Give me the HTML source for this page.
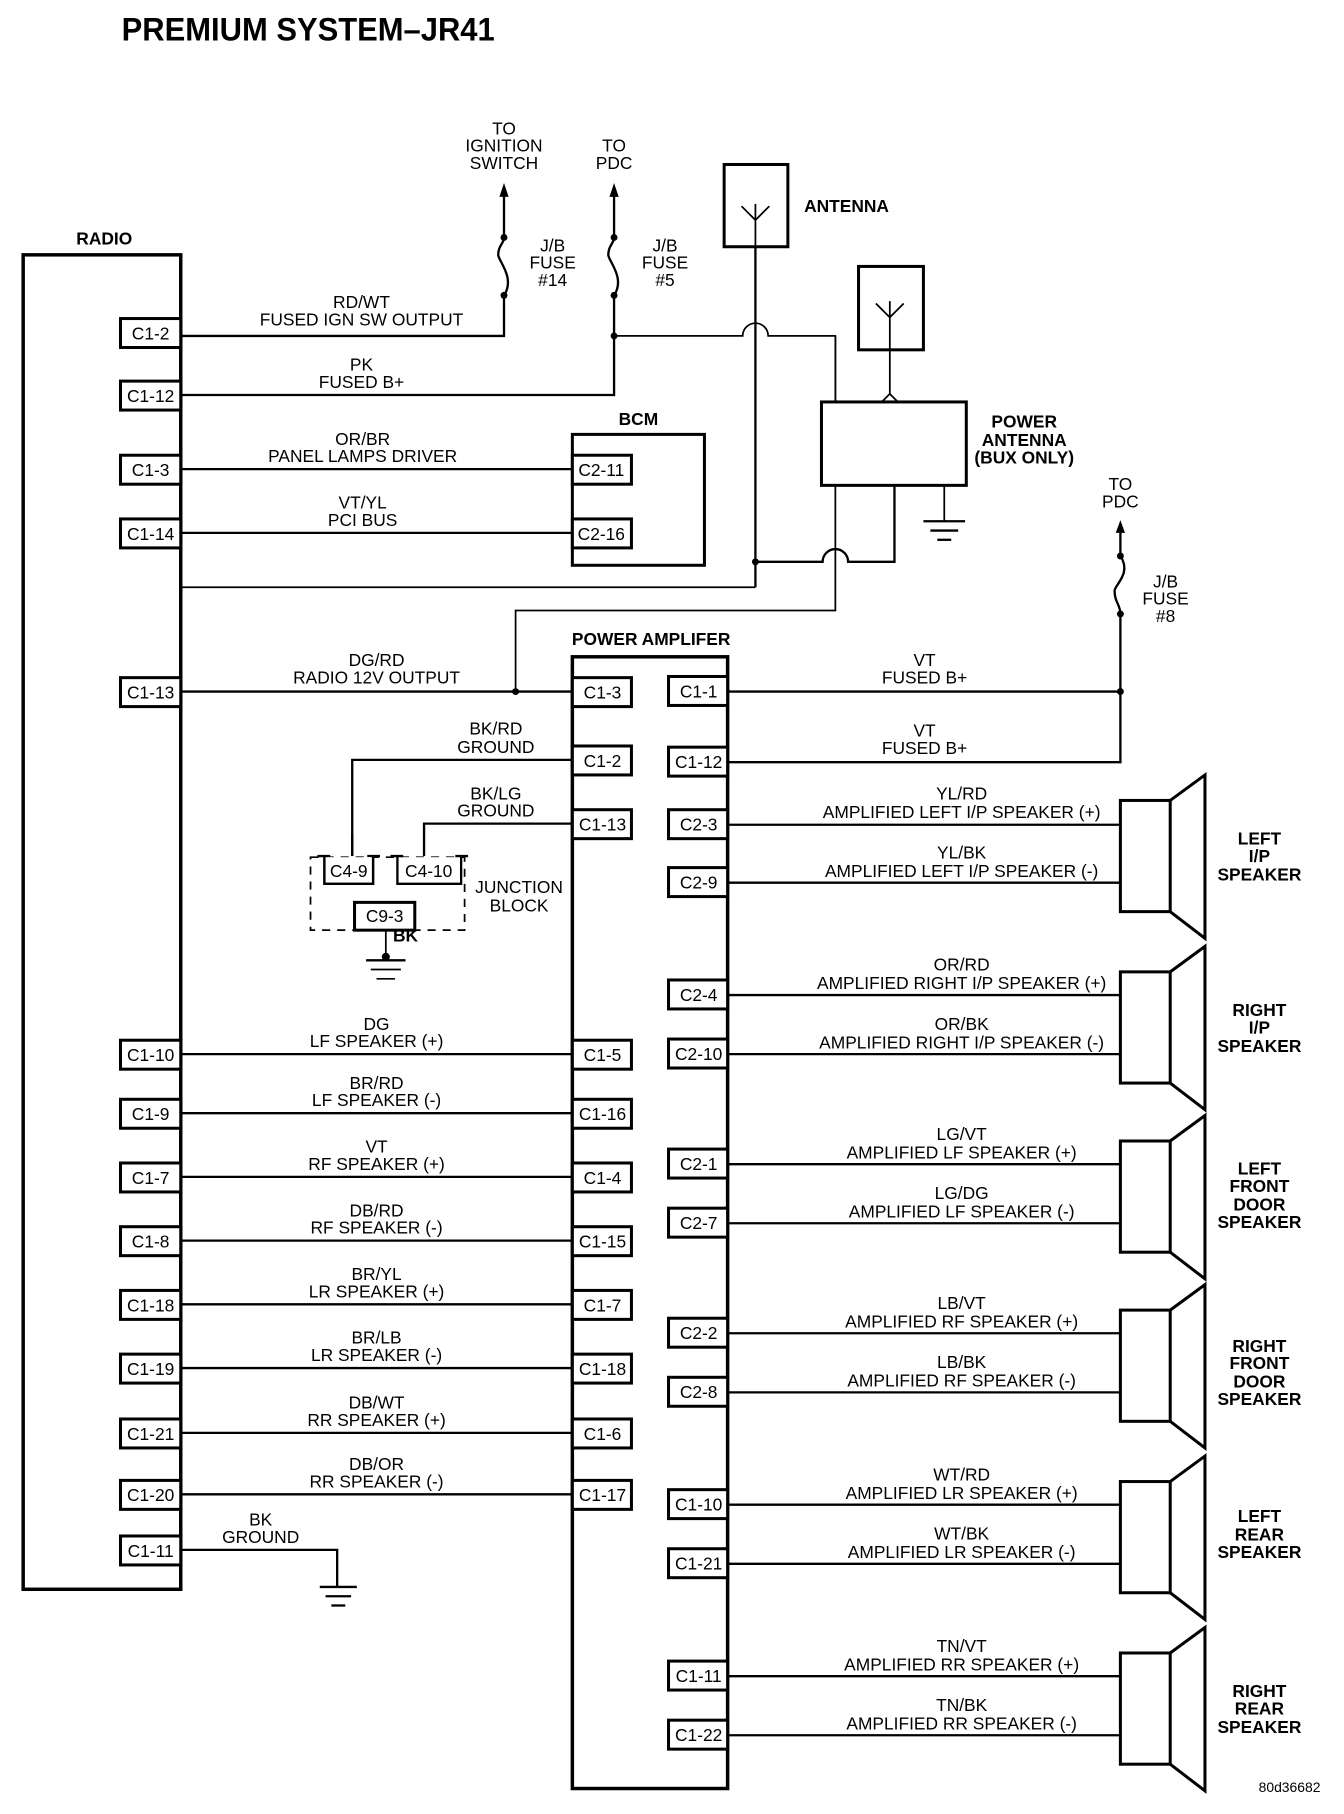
<!DOCTYPE html>
<html><head><meta charset="utf-8"><style>
html,body{margin:0;padding:0;background:#fff}
svg{display:block}
text{font-family:"Liberation Sans",sans-serif;font-size:15px;fill:#000}
.b{font-weight:bold}
.m{text-anchor:middle}
.w{fill:none;stroke:#000;stroke-width:2}
.t{fill:none;stroke:#000;stroke-width:1.5}
.bx{fill:#fff;stroke:#000;stroke-width:2.6}
.k{fill:none;stroke:#000;stroke-width:3}
</style></head><body>
<svg width="1344" height="1814" viewBox="0 0 1160 1566" preserveAspectRatio="none" xmlns="http://www.w3.org/2000/svg">
<text x="105" y="35" class="b" style="font-size:28px" textLength="322" lengthAdjust="spacingAndGlyphs">PREMIUM SYSTEM–JR41</text>

<!-- RADIO -->
<text x="90" y="211" class="b m">RADIO</text>
<rect x="20" y="220" width="136" height="1152" class="k"/>

<!-- wires top -->
<polyline points="156,290 435,290 435,255" class="w"/>
<path d="M435,255 C445,240 430,225 430,220 C430,212 435,210 435,205" class="w"/>
<line x1="435" y1="205" x2="435" y2="168" class="w"/>
<polygon points="435,158 431,170 439,170"/>
<circle cx="435" cy="255" r="3"/><circle cx="435" cy="205" r="3"/>
<text x="435" y="116" class="m">TO</text><text x="435" y="131" class="m">IGNITION</text><text x="435" y="146" class="m">SWITCH</text>
<text x="477" y="217" class="m">J/B</text><text x="477" y="232" class="m">FUSE</text><text x="477" y="247" class="m">#14</text>
<text x="312" y="266" class="m">RD/WT</text><text x="312" y="281" class="m">FUSED IGN SW OUTPUT</text>

<polyline points="156,341 530,341 530,255" class="w"/>
<path d="M530,255 C540,240 525,225 525,220 C525,212 530,210 530,205" class="w"/>
<line x1="530" y1="205" x2="530" y2="168" class="w"/>
<polygon points="530,158 526,170 534,170"/>
<circle cx="530" cy="255" r="3"/><circle cx="530" cy="205" r="3"/><circle cx="530" cy="290" r="3"/>
<text x="530" y="131" class="m">TO</text><text x="530" y="146" class="m">PDC</text>
<text x="574" y="217" class="m">J/B</text><text x="574" y="232" class="m">FUSE</text><text x="574" y="247" class="m">#5</text>
<text x="312" y="320" class="m">PK</text><text x="312" y="335" class="m">FUSED B+</text>

<path d="M530,290 L641,290 A11,11 0 0 1 663,290 L721,290 L721,527 L445,527 L445,597" class="t"/>
<circle cx="445" cy="597" r="3"/>

<!-- antenna -->
<rect x="625" y="142" width="55" height="71" class="bx"/>
<path d="M652,213 L652,176 M640,178 L652,190 L664,178" class="t"/>
<text x="694" y="183" class="b">ANTENNA</text>
<line x1="652" y1="213" x2="652" y2="507" class="w"/>
<polyline points="156,507 652,507" class="t"/>
<path d="M652,485 L710,485 A11,11 0 0 1 732,485 L772,485 L772,419" class="w"/>
<circle cx="652" cy="485" r="3"/>

<rect x="741" y="230" width="56" height="72" class="bx"/>
<path d="M768,302 L768,260 M756,262 L768,274 L780,262" class="t"/>
<path d="M768,302 L768,340 M761,347 L768,340 L775,347" class="t"/>
<rect x="709" y="347" width="125" height="72" class="bx"/>
<line x1="721" y1="290" x2="721" y2="347" class="t"/>
<line x1="815" y1="419" x2="815" y2="450" class="t"/>
<line x1="797" y1="450" x2="833" y2="450" class="w"/>
<line x1="803" y1="458" x2="827" y2="458" class="w"/>
<line x1="809" y1="466" x2="821" y2="466" class="w"/>
<text x="884" y="369" class="b m">POWER</text><text x="884" y="385" class="b m">ANTENNA</text><text x="884" y="400" class="b m">(BUX ONLY)</text>

<!-- BCM -->
<text x="551" y="367" class="b m">BCM</text>
<rect x="494" y="375" width="114" height="113" class="bx"/>
<rect x="494" y="393" width="51" height="25" class="bx"/><text x="519" y="411" class="m">C2-11</text>
<rect x="494" y="448" width="51" height="25" class="bx"/><text x="519" y="466" class="m">C2-16</text>
<line x1="156" y1="405" x2="494" y2="405" class="w"/>
<line x1="156" y1="460" x2="494" y2="460" class="w"/>
<text x="313" y="384" class="m">OR/BR</text><text x="313" y="399" class="m">PANEL LAMPS DRIVER</text>
<text x="313" y="439" class="m">VT/YL</text><text x="313" y="454" class="m">PCI BUS</text>

<!-- TO PDC right -->
<text x="967" y="423" class="m">TO</text><text x="967" y="438" class="m">PDC</text>
<polygon points="967,449 963,460 971,460"/>
<line x1="967" y1="458" x2="967" y2="480" class="w"/>
<path d="M967,480 C977,495 962,505 962,510 C962,520 967,522 967,530" class="w"/>
<circle cx="967" cy="480" r="3"/><circle cx="967" cy="530" r="3"/>
<polyline points="967,530 967,658 628,658" class="w"/>
<line x1="628" y1="597" x2="967" y2="597" class="w"/>
<circle cx="967" cy="597" r="3"/>
<text x="1006" y="507" class="m">J/B</text><text x="1006" y="522" class="m">FUSE</text><text x="1006" y="537" class="m">#8</text>

<!-- Power amp -->
<text x="562" y="557" class="b m">POWER AMPLIFER</text>
<rect x="494" y="567" width="134" height="977" class="k"/>

<!-- radio wires -->
<g class="w">
<line x1="156" y1="597" x2="494" y2="597"/>
<line x1="156" y1="910" x2="494" y2="910"/>
<line x1="156" y1="961" x2="494" y2="961"/>
<line x1="156" y1="1016" x2="494" y2="1016"/>
<line x1="156" y1="1071" x2="494" y2="1071"/>
<line x1="156" y1="1126" x2="494" y2="1126"/>
<line x1="156" y1="1181" x2="494" y2="1181"/>
<line x1="156" y1="1237" x2="494" y2="1237"/>
<line x1="156" y1="1290" x2="494" y2="1290"/>
<polyline points="156,1338 291,1338 291,1370"/>
<polyline points="494,656 304,656 304,739"/>
<polyline points="494,711 366,711 366,739"/>
</g>
<line x1="276" y1="1370" x2="308" y2="1370" class="w"/>
<line x1="281" y1="1378" x2="303" y2="1378" class="w"/>
<line x1="286" y1="1386" x2="298" y2="1386" class="w"/>
<text x="225" y="1317" class="m">BK</text><text x="225" y="1332" class="m">GROUND</text>

<text x="325" y="575" class="m">DG/RD</text><text x="325" y="590" class="m">RADIO 12V OUTPUT</text>
<text x="428" y="634" class="m">BK/RD</text><text x="428" y="650" class="m">GROUND</text>
<text x="428" y="690" class="m">BK/LG</text><text x="428" y="705" class="m">GROUND</text>
<text x="325" y="889" class="m">DG</text><text x="325" y="904" class="m">LF SPEAKER (+)</text>
<text x="325" y="940" class="m">BR/RD</text><text x="325" y="955" class="m">LF SPEAKER (-)</text>
<text x="325" y="995" class="m">VT</text><text x="325" y="1010" class="m">RF SPEAKER (+)</text>
<text x="325" y="1050" class="m">DB/RD</text><text x="325" y="1065" class="m">RF SPEAKER (-)</text>
<text x="325" y="1105" class="m">BR/YL</text><text x="325" y="1120" class="m">LR SPEAKER (+)</text>
<text x="325" y="1160" class="m">BR/LB</text><text x="325" y="1175" class="m">LR SPEAKER (-)</text>
<text x="325" y="1216" class="m">DB/WT</text><text x="325" y="1231" class="m">RR SPEAKER (+)</text>
<text x="325" y="1269" class="m">DB/OR</text><text x="325" y="1284" class="m">RR SPEAKER (-)</text>

<!-- Junction block -->
<rect x="268" y="740" width="133" height="63" fill="none" stroke="#000" stroke-width="1.5" stroke-dasharray="7,6"/>
<path d="M280,739 L280,763 L322,763 L322,739 M274,739 L285,739 M317,739 L328,739" class="w" fill="#fff"/>
<rect x="281" y="740" width="40" height="22" fill="#fff"/>
<path d="M280,739 L280,763 L322,763 L322,739" class="w"/>
<rect x="344" y="740" width="53" height="22" fill="#fff"/>
<path d="M343,739 L343,763 L398,763 L398,739 M337,739 L348,739 M393,739 L404,739" class="w"/>
<text x="301" y="757" class="m">C4-9</text><text x="370" y="757" class="m">C4-10</text>
<rect x="306" y="779" width="52" height="24" class="bx"/><text x="332" y="796" class="m">C9-3</text>
<line x1="304" y1="739" x2="304" y2="720" class="w"/>
<line x1="333" y1="803" x2="333" y2="828" class="t"/>
<circle cx="333" cy="826" r="3.5"/>
<line x1="316" y1="829" x2="350" y2="829" class="w"/>
<line x1="320" y1="837" x2="346" y2="837" class="t"/>
<line x1="325" y1="845" x2="341" y2="845" class="t"/>
<text x="350" y="813" class="b m">BK</text>
<text x="448" y="771" class="m">JUNCTION</text><text x="448" y="787" class="m">BLOCK</text>

<!-- Radio connectors -->
<g>
<rect x="104" y="275" width="52" height="25" class="bx"/><text x="130" y="293" class="m">C1-2</text>
<rect x="104" y="329" width="52" height="25" class="bx"/><text x="130" y="347" class="m">C1-12</text>
<rect x="104" y="393" width="52" height="25" class="bx"/><text x="130" y="411" class="m">C1-3</text>
<rect x="104" y="448" width="52" height="25" class="bx"/><text x="130" y="466" class="m">C1-14</text>
<rect x="104" y="585" width="52" height="25" class="bx"/><text x="130" y="603" class="m">C1-13</text>
<rect x="104" y="898" width="52" height="25" class="bx"/><text x="130" y="916" class="m">C1-10</text>
<rect x="104" y="949" width="52" height="25" class="bx"/><text x="130" y="967" class="m">C1-9</text>
<rect x="104" y="1004" width="52" height="25" class="bx"/><text x="130" y="1022" class="m">C1-7</text>
<rect x="104" y="1059" width="52" height="25" class="bx"/><text x="130" y="1077" class="m">C1-8</text>
<rect x="104" y="1114" width="52" height="25" class="bx"/><text x="130" y="1132" class="m">C1-18</text>
<rect x="104" y="1169" width="52" height="25" class="bx"/><text x="130" y="1187" class="m">C1-19</text>
<rect x="104" y="1225" width="52" height="25" class="bx"/><text x="130" y="1243" class="m">C1-21</text>
<rect x="104" y="1278" width="52" height="25" class="bx"/><text x="130" y="1296" class="m">C1-20</text>
<rect x="104" y="1326" width="52" height="25" class="bx"/><text x="130" y="1344" class="m">C1-11</text>
</g>

<!-- Amp left connectors -->
<g>
<rect x="494" y="585" width="51" height="25" class="bx"/><text x="520" y="603" class="m">C1-3</text>
<rect x="494" y="644" width="51" height="25" class="bx"/><text x="520" y="662" class="m">C1-2</text>
<rect x="494" y="699" width="51" height="25" class="bx"/><text x="520" y="717" class="m">C1-13</text>
<rect x="494" y="898" width="51" height="25" class="bx"/><text x="520" y="916" class="m">C1-5</text>
<rect x="494" y="949" width="51" height="25" class="bx"/><text x="520" y="967" class="m">C1-16</text>
<rect x="494" y="1004" width="51" height="25" class="bx"/><text x="520" y="1022" class="m">C1-4</text>
<rect x="494" y="1059" width="51" height="25" class="bx"/><text x="520" y="1077" class="m">C1-15</text>
<rect x="494" y="1114" width="51" height="25" class="bx"/><text x="520" y="1132" class="m">C1-7</text>
<rect x="494" y="1169" width="51" height="25" class="bx"/><text x="520" y="1187" class="m">C1-18</text>
<rect x="494" y="1225" width="51" height="25" class="bx"/><text x="520" y="1243" class="m">C1-6</text>
<rect x="494" y="1278" width="51" height="25" class="bx"/><text x="520" y="1296" class="m">C1-17</text>
</g>

<!-- Amp right connectors -->
<g>
<rect x="577" y="584" width="51" height="25" class="bx"/><text x="603" y="602" class="m">C1-1</text>
<rect x="577" y="645" width="51" height="25" class="bx"/><text x="603" y="663" class="m">C1-12</text>
<rect x="577" y="699" width="51" height="25" class="bx"/><text x="603" y="717" class="m">C2-3</text>
<rect x="577" y="749" width="51" height="25" class="bx"/><text x="603" y="767" class="m">C2-9</text>
<rect x="577" y="846" width="51" height="25" class="bx"/><text x="603" y="864" class="m">C2-4</text>
<rect x="577" y="897" width="51" height="25" class="bx"/><text x="603" y="915" class="m">C2-10</text>
<rect x="577" y="992" width="51" height="25" class="bx"/><text x="603" y="1010" class="m">C2-1</text>
<rect x="577" y="1043" width="51" height="25" class="bx"/><text x="603" y="1061" class="m">C2-7</text>
<rect x="577" y="1138" width="51" height="25" class="bx"/><text x="603" y="1156" class="m">C2-2</text>
<rect x="577" y="1189" width="51" height="25" class="bx"/><text x="603" y="1207" class="m">C2-8</text>
<rect x="577" y="1286" width="51" height="25" class="bx"/><text x="603" y="1304" class="m">C1-10</text>
<rect x="577" y="1337" width="51" height="25" class="bx"/><text x="603" y="1355" class="m">C1-21</text>
<rect x="577" y="1434" width="51" height="25" class="bx"/><text x="603" y="1452" class="m">C1-11</text>
<rect x="577" y="1485" width="51" height="25" class="bx"/><text x="603" y="1503" class="m">C1-22</text>
</g>

<text x="798" y="575" class="m">VT</text><text x="798" y="590" class="m">FUSED B+</text>
<text x="798" y="636" class="m">VT</text><text x="798" y="651" class="m">FUSED B+</text>

<!-- speaker wires -->
<g class="w">
<line x1="628" y1="712" x2="967" y2="712"/><line x1="628" y1="762" x2="967" y2="762"/>
<line x1="628" y1="859" x2="967" y2="859"/><line x1="628" y1="910" x2="967" y2="910"/>
<line x1="628" y1="1005" x2="967" y2="1005"/><line x1="628" y1="1056" x2="967" y2="1056"/>
<line x1="628" y1="1151" x2="967" y2="1151"/><line x1="628" y1="1202" x2="967" y2="1202"/>
<line x1="628" y1="1299" x2="967" y2="1299"/><line x1="628" y1="1350" x2="967" y2="1350"/>
<line x1="628" y1="1447" x2="967" y2="1447"/><line x1="628" y1="1498" x2="967" y2="1498"/>
</g>
<text x="830" y="690" class="m">YL/RD</text><text x="830" y="706" class="m">AMPLIFIED LEFT I/P SPEAKER (+)</text>
<text x="830" y="741" class="m">YL/BK</text><text x="830" y="757" class="m">AMPLIFIED LEFT I/P SPEAKER (-)</text>
<text x="830" y="838" class="m">OR/RD</text><text x="830" y="854" class="m">AMPLIFIED RIGHT I/P SPEAKER (+)</text>
<text x="830" y="889" class="m">OR/BK</text><text x="830" y="905" class="m">AMPLIFIED RIGHT I/P SPEAKER (-)</text>
<text x="830" y="984" class="m">LG/VT</text><text x="830" y="1000" class="m">AMPLIFIED LF SPEAKER (+)</text>
<text x="830" y="1035" class="m">LG/DG</text><text x="830" y="1051" class="m">AMPLIFIED LF SPEAKER (-)</text>
<text x="830" y="1130" class="m">LB/VT</text><text x="830" y="1146" class="m">AMPLIFIED RF SPEAKER (+)</text>
<text x="830" y="1181" class="m">LB/BK</text><text x="830" y="1197" class="m">AMPLIFIED RF SPEAKER (-)</text>
<text x="830" y="1278" class="m">WT/RD</text><text x="830" y="1294" class="m">AMPLIFIED LR SPEAKER (+)</text>
<text x="830" y="1329" class="m">WT/BK</text><text x="830" y="1345" class="m">AMPLIFIED LR SPEAKER (-)</text>
<text x="830" y="1426" class="m">TN/VT</text><text x="830" y="1442" class="m">AMPLIFIED RR SPEAKER (+)</text>
<text x="830" y="1477" class="m">TN/BK</text><text x="830" y="1493" class="m">AMPLIFIED RR SPEAKER (-)</text>

<!-- speakers -->
<g fill="none" stroke="#000" stroke-width="2.6">
<rect x="967" y="691" width="43" height="96"/><path d="M1010,691 L1040,669 L1040,810 L1010,787"/>
<rect x="967" y="839" width="43" height="96"/><path d="M1010,839 L1040,817 L1040,958 L1010,935"/>
<rect x="967" y="985" width="43" height="96"/><path d="M1010,985 L1040,963 L1040,1104 L1010,1081"/>
<rect x="967" y="1131" width="43" height="96"/><path d="M1010,1131 L1040,1109 L1040,1250 L1010,1227"/>
<rect x="967" y="1279" width="43" height="96"/><path d="M1010,1279 L1040,1257 L1040,1398 L1010,1375"/>
<rect x="967" y="1427" width="43" height="96"/><path d="M1010,1427 L1040,1405 L1040,1546 L1010,1523"/>
</g>
<g class="b m">
<text x="1087" y="729" class="b m">LEFT</text><text x="1087" y="744" class="b m">I/P</text><text x="1087" y="760" class="b m">SPEAKER</text>
<text x="1087" y="877" class="b m">RIGHT</text><text x="1087" y="892" class="b m">I/P</text><text x="1087" y="908" class="b m">SPEAKER</text>
<text x="1087" y="1014" class="b m">LEFT</text><text x="1087" y="1029" class="b m">FRONT</text><text x="1087" y="1045" class="b m">DOOR</text><text x="1087" y="1060" class="b m">SPEAKER</text>
<text x="1087" y="1167" class="b m">RIGHT</text><text x="1087" y="1182" class="b m">FRONT</text><text x="1087" y="1198" class="b m">DOOR</text><text x="1087" y="1213" class="b m">SPEAKER</text>
<text x="1087" y="1314" class="b m">LEFT</text><text x="1087" y="1330" class="b m">REAR</text><text x="1087" y="1345" class="b m">SPEAKER</text>
<text x="1087" y="1465" class="b m">RIGHT</text><text x="1087" y="1480" class="b m">REAR</text><text x="1087" y="1496" class="b m">SPEAKER</text>
</g>
<text x="1113" y="1547" class="m" style="font-size:12px">80d36682</text>
</svg>
</body></html>
